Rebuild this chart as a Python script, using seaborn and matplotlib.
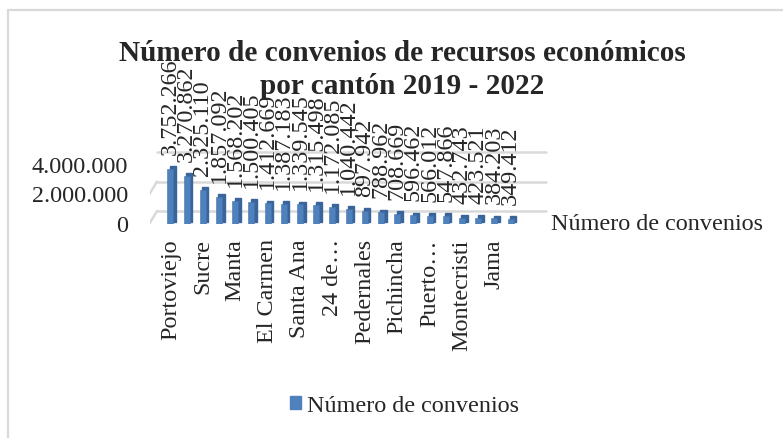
import matplotlib

matplotlib.use("Agg")
import matplotlib.pyplot as plt
import pandas as pd
import seaborn as sns
from matplotlib.lines import Line2D
from matplotlib.patches import Patch, Rectangle
from matplotlib.transforms import ScaledTranslation, blended_transform_factory

# cantones (solo los pares llevan etiqueta visible en el eje)
cantones = [
    "Portoviejo", "Chone", "Sucre", "Jipijapa", "Manta", "Rocafuerte",
    "El Carmen", "Tosagua", "Santa Ana", "Bolívar", "24 de Mayo", "Paján",
    "Pedernales", "San Vicente", "Pichincha", "Junín", "Puerto López", "Flavio Alfaro",
    "Montecristi", "Jaramijó", "Jama", "Olmedo",
]
convenios = [
    3752266, 3270862, 2325110, 1857092, 1568202, 1500405,
    1412669, 1387183, 1339545, 1315498, 1172085, 1040442,
    897942, 788962, 708669, 596462, 566012, 547866,
    432743, 423521, 384203, 349412,
]
tick_labels = [
    "Portoviejo", "Sucre", "Manta", "El Carmen", "Santa Ana", "24 de…",
    "Pedernales", "Pichincha", "Puerto…", "Montecristi", "Jama",
]
y_ticks = [0, 2000000, 4000000]

BLUE = "#4F81BD"
GRID = "#D9D9D9"
FS = 17.4


def miles(v):
    return f"{int(v):,}".replace(",", ".")


def main() -> None:
    sns.set_style("white")
    plt.rcParams["font.family"] = ["Liberation Serif", "DejaVu Serif"]

    df = pd.DataFrame({"canton": cantones, "convenios": convenios})

    fig = plt.figure(figsize=(7.83, 4.38), dpi=100)
    ax = fig.add_axes([150 / 783, 214 / 438, 381 / 783, 59 / 438])
    sns.barplot(data=df, x="canton", y="convenios", color=BLUE, saturation=1,
                width=0.38, ax=ax, zorder=3)

    # efecto 3D: cara lateral/superior mas oscura detras de cada barra
    depth = ax.transData + ScaledTranslation(2.5 / 100, 2.5 / 100, fig.dpi_scale_trans)
    for p in list(ax.patches):
        side = Rectangle((p.get_x(), p.get_y()), p.get_width(), p.get_height(),
                         transform=depth, color="#3A659A", zorder=2.5, clip_on=False)
        ax.add_patch(side)
        p.set_edgecolor("#4373AE")
        p.set_linewidth(0.4)

    ax.set_ylim(0, 4000000)
    ax.set_yticks(y_ticks)
    ax.set_yticklabels([miles(v) for v in y_ticks], fontsize=FS)
    ax.set_xticks(range(0, len(cantones), 2))
    ax.set_xticklabels(tick_labels, rotation=90, fontsize=FS)
    ax.tick_params(axis="x", length=0, pad=11)
    ax.tick_params(axis="y", length=0, pad=16)
    ax.set_xlabel("")
    ax.set_ylabel("")
    for s in ax.spines.values():
        s.set_visible(False)

    # pared del fondo: lineas de division desplazadas
    back = blended_transform_factory(ax.transAxes, ax.transData) + \
        ScaledTranslation(7 / 100, 13 / 100, fig.dpi_scale_trans)
    for v in y_ticks:
        ax.plot([0, 1.02], [v, v], transform=back, color=GRID, lw=1.8,
                zorder=0, clip_on=False)
        x0, y0 = ax.transData.transform((-0.5, v))
        ax.add_artist(Line2D([x0 - 2, x0 + 7], [y0 - 2, y0 + 13], transform=None,
                             color=GRID, lw=1.8, zorder=0))

    for p, v in zip(ax.patches[:len(convenios)], convenios):
        ax.annotate(miles(v), (p.get_x() + p.get_width() / 2, p.get_height()),
                    xytext=(0, 10), textcoords="offset points", rotation=90,
                    ha="center", va="bottom", fontsize=FS, zorder=5,
                    annotation_clip=False)

    fig.text(402 / 783, 1 - 40 / 438,
             "Número de convenios de recursos económicos\npor cantón 2019 - 2022",
             ha="center", va="top", fontsize=21.1, fontweight="bold", linespacing=1.3)

    fig.text(551 / 783, 1 - 224 / 438, "Número de convenios", ha="left", va="center",
             fontsize=FS)

    fig.legend(handles=[Patch(color=BLUE)], labels=["Número de convenios"],
               loc="center left", bbox_to_anchor=(290 / 783, 1 - 406 / 438),
               frameon=False, fontsize=FS, handlelength=0.45, handleheight=0.45,
               handletextpad=0.25, borderpad=0, borderaxespad=0)

    # borde del area del grafico
    fig.add_artist(Line2D([8 / 783, 1], [1 - 10 / 438, 1 - 10 / 438],
                          transform=fig.transFigure, color=GRID, lw=1.6))
    fig.add_artist(Line2D([8 / 783, 8 / 783], [0, 1 - 10 / 438],
                          transform=fig.transFigure, color=GRID, lw=1.6))

    fig.savefig("out.png", dpi=100)


if __name__ == "__main__":
    main()
